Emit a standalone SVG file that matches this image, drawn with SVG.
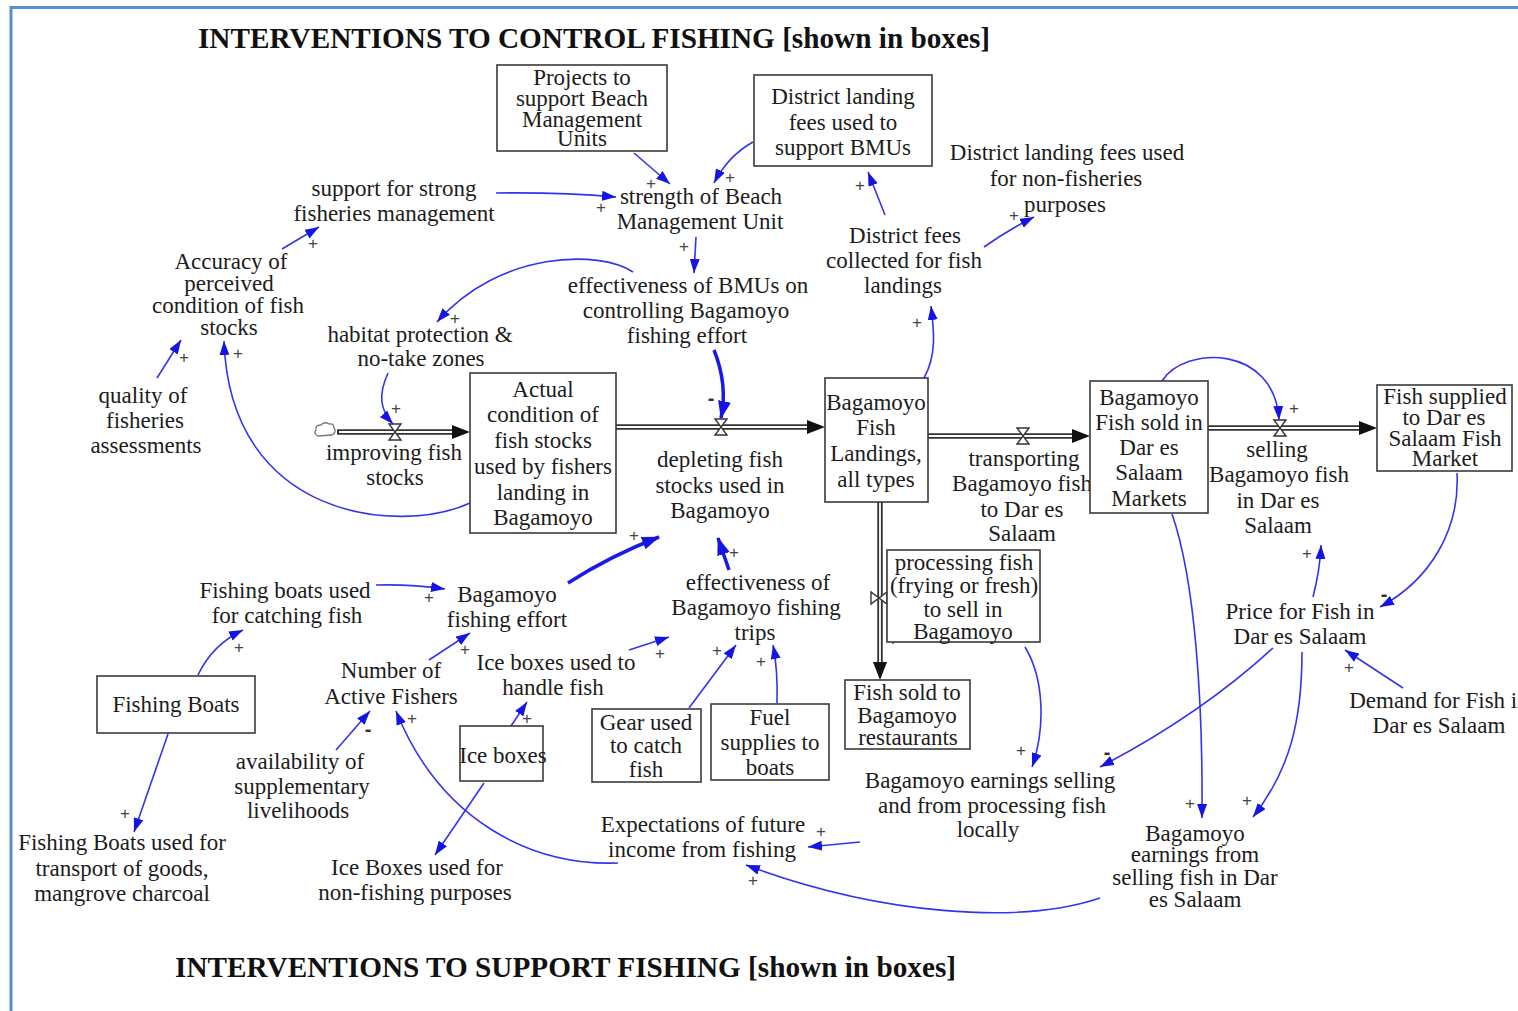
<svg xmlns="http://www.w3.org/2000/svg" width="1518" height="1011" viewBox="0 0 1518 1011">
<style>
.t{font-family:"Liberation Serif","Times New Roman",serif;font-size:23px;fill:#1c1c1c;text-anchor:middle}
.title{font-family:"Liberation Serif","Times New Roman",serif;font-size:29px;font-weight:bold;fill:#111}
.box{fill:#fff;stroke:#3a3a3a;stroke-width:1.6}
.c{fill:none;stroke:#3434ee;stroke-width:1.6;marker-end:url(#ar)}
.ck{fill:none;stroke:#1a1ae8;stroke-width:3.5;marker-end:url(#arb)}
.pipe{fill:none;stroke:#333;stroke-width:5.5;marker-end:url(#fa)}
.pipein{fill:none;stroke:#fff;stroke-width:1.8}
.pol{font-family:"Liberation Sans",Arial,sans-serif;font-size:17px;fill:#444;text-anchor:middle}
.neg{font-family:"Liberation Sans",Arial,sans-serif;font-size:20px;font-weight:bold;fill:#333;text-anchor:middle}
.valve{fill:#fff;stroke:#333;stroke-width:1.4}
</style>
<defs>
<marker id="ar" viewBox="0 0 14 10" refX="14" refY="5" markerWidth="14" markerHeight="10" markerUnits="userSpaceOnUse" orient="auto"><path d="M0,0 L14,5 L0,10 Z" fill="#1414e4"/></marker>
<marker id="arb" viewBox="0 0 18 13" refX="17" refY="6.5" markerWidth="18" markerHeight="13" markerUnits="userSpaceOnUse" orient="auto"><path d="M0,0 L18,6.5 L0,13 Z" fill="#1414e4"/></marker>
<marker id="fa" viewBox="0 -7 18 14" refX="0" refY="0" markerWidth="18" markerHeight="14" markerUnits="userSpaceOnUse" orient="auto"><path d="M0,-7 L18,0 L0,7 Z" fill="#111"/></marker>
<path id="vlv" d="M-6,-8 H6 L-6,8 H6 Z"/>
</defs>
<rect width="1518" height="1011" fill="#fff"/>
<path d="M11,1011 V7.5 H1518" fill="none" stroke="#5a8ed4" stroke-width="3"/>

<text class="title" x="198" y="48" textLength="792" lengthAdjust="spacingAndGlyphs">INTERVENTIONS TO CONTROL FISHING [shown in boxes]</text>
<text class="title" x="175" y="977" textLength="781" lengthAdjust="spacingAndGlyphs">INTERVENTIONS TO SUPPORT FISHING [shown in boxes]</text>

<g id="connectors">
<!-- stock flows -->
<path class="pipe" d="M337,432 L452,432"/><path class="pipein" d="M339,432 L452,432"/>
<path class="pipe" d="M616,427 L807,427"/><path class="pipein" d="M616,427 L807,427"/>
<path class="pipe" d="M928,436 L1072,436"/><path class="pipein" d="M928,436 L1072,436"/>
<path class="pipe" d="M1208,428 L1359,428"/><path class="pipein" d="M1208,428 L1359,428"/>
<path class="pipe" d="M880,502 L880,662"/><path class="pipein" d="M880,502 L880,662"/>
<path d="M318,436 q-5,-2 -2,-6 q-1,-5 5,-5 q3,-4 8,-1 q5,-1 5,4 q3,4 -2,7 z" fill="#fff" stroke="#777" stroke-width="1.3"/>
<use href="#vlv" class="valve" x="395" y="432"/>
<use href="#vlv" class="valve" x="721" y="427"/>
<use href="#vlv" class="valve" x="1023" y="436"/>
<use href="#vlv" class="valve" x="1280" y="428"/>
<use href="#vlv" class="valve" transform="translate(879,598) rotate(90)"/>

<!-- causal links -->
<path class="c" d="M634,153 L670,184"/>
<path class="c" d="M753,142 Q728,156 714,183"/>
<path class="c" d="M496,193 Q560,192 616,197"/>
<path class="c" d="M696,237 L694,273"/>
<path class="c" d="M885,215 L868,172"/>
<path class="c" d="M984,247 Q1008,230 1034,217"/>
<path class="c" d="M924,378 C937,355 934,330 931,306"/>
<path class="c" d="M633,272 C600,250 500,250 437,322"/>
<path class="c" d="M388,373 C378,395 380,410 393,424"/>
<path class="c" d="M282,249 L319,227"/>
<path class="c" d="M157,378 L181,340"/>
<path class="c" d="M470,503 C400,535 230,520 224,341"/>
<path class="ck" d="M714,350 Q728,385 721,418"/>
<path class="ck" d="M568,583 Q610,556 659,537"/>
<path class="ck" d="M729,570 L718,538"/>
<path class="c" d="M376,585 Q410,584 445,589"/>
<path class="c" d="M198,675 Q212,645 243,630"/>
<path class="c" d="M168,734 L134,832"/>
<path class="c" d="M429,660 L470,633"/>
<path class="c" d="M336,750 L370,711"/>
<path class="c" d="M618,863 C530,866 440,820 396,711"/>
<path class="c" d="M511,726 L527,702"/>
<path class="c" d="M629,650 L669,637"/>
<path class="c" d="M689,708 L736,645"/>
<path class="c" d="M777,703 Q778,670 773,645"/>
<path class="c" d="M484,783 L435,855"/>
<path class="c" d="M1025,647 C1045,680 1045,730 1032,767"/>
<path class="c" d="M860,842 L808,847"/>
<path class="c" d="M1100,898 C1020,925 880,915 746,865"/>
<path class="c" d="M1273,648 Q1200,715 1100,767"/>
<path class="c" d="M1302,652 C1302,720 1290,770 1253,817"/>
<path class="c" d="M1172,514 C1195,580 1203,700 1202,818"/>
<path class="c" d="M1313,597 Q1320,570 1321,545"/>
<path class="c" d="M1457,473 C1460,530 1430,580 1380,607"/>
<path class="c" d="M1403,688 L1345,650"/>
<path class="c" d="M1162,381 C1185,345 1275,345 1279,420"/>

<!-- polarities -->
<text class="pol" x="651" y="189">+</text>
<text class="pol" x="730" y="183">+</text>
<text class="pol" x="601" y="213">+</text>
<text class="pol" x="684" y="252">+</text>
<text class="pol" x="860" y="191">+</text>
<text class="pol" x="1014" y="221">+</text>
<text class="pol" x="917" y="328">+</text>
<text class="pol" x="455" y="324">+</text>
<text class="pol" x="396" y="414">+</text>
<text class="pol" x="313" y="249">+</text>
<text class="pol" x="184" y="363">+</text>
<text class="pol" x="238" y="359">+</text>
<text class="neg" x="711" y="405">-</text>
<text class="pol" x="634" y="541">+</text>
<text class="pol" x="734" y="558">+</text>
<text class="pol" x="429" y="603">+</text>
<text class="pol" x="239" y="653">+</text>
<text class="pol" x="125" y="819">+</text>
<text class="pol" x="465" y="655">+</text>
<text class="neg" x="368" y="736">-</text>
<text class="pol" x="412" y="724">+</text>
<text class="pol" x="527" y="724">+</text>
<text class="pol" x="660" y="659">+</text>
<text class="pol" x="717" y="656">+</text>
<text class="pol" x="761" y="667">+</text>
<text class="pol" x="893" y="645">+</text>
<text class="pol" x="1021" y="756">+</text>
<text class="pol" x="821" y="837">+</text>
<text class="pol" x="753" y="886">+</text>
<text class="neg" x="1107" y="759">-</text>
<text class="pol" x="1190" y="809">+</text>
<text class="pol" x="1247" y="806">+</text>
<text class="pol" x="1307" y="559">+</text>
<text class="neg" x="1384" y="601">-</text>
<text class="pol" x="1349" y="673">+</text>
<text class="pol" x="1294" y="414">+</text>
</g>

<g id="n-projects"><rect class="box" x="497" y="65" width="170" height="86"/><text class="t"><tspan x="582" y="85">Projects to</tspan><tspan x="582" y="106">support Beach</tspan><tspan x="582" y="127">Management</tspan><tspan x="582" y="146">Units</tspan></text></g>
<g id="n-district-box"><rect class="box" x="754" y="75" width="178" height="91"/><text class="t"><tspan x="843" y="104">District landing</tspan><tspan x="843" y="130">fees used to</tspan><tspan x="843" y="155">support BMUs</tspan></text></g>
<g id="n-support"><text class="t"><tspan x="394" y="196">support for strong</tspan><tspan x="394" y="221">fisheries management</tspan></text></g>
<g id="n-strength"><text class="t"><tspan x="701" y="204">strength of Beach</tspan><tspan x="700" y="229">Management Unit</tspan></text></g>
<g id="n-effbmu"><text class="t"><tspan x="688" y="293">effectiveness of BMUs on</tspan><tspan x="686" y="318">controlling Bagamoyo</tspan><tspan x="687" y="343">fishing effort</tspan></text></g>
<g id="n-fees"><text class="t"><tspan x="905" y="243">District fees</tspan><tspan x="904" y="268">collected for fish</tspan><tspan x="903" y="293">landings</tspan></text></g>
<g id="n-nonfish"><text class="t"><tspan x="1067" y="160">District landing fees used</tspan><tspan x="1066" y="186">for non-fisheries</tspan><tspan x="1065" y="212">purposes</tspan></text></g>
<g id="n-accuracy"><text class="t"><tspan x="231" y="269">Accuracy of</tspan><tspan x="229" y="291">perceived</tspan><tspan x="228" y="313">condition of fish</tspan><tspan x="229" y="335">stocks</tspan></text></g>
<g id="n-habitat"><text class="t"><tspan x="420" y="342">habitat protection &amp;</tspan><tspan x="421" y="366">no-take zones</tspan></text></g>
<g id="n-quality"><text class="t"><tspan x="143" y="403">quality of</tspan><tspan x="145" y="428">fisheries</tspan><tspan x="146" y="453">assessments</tspan></text></g>
<g id="n-improving"><text class="t"><tspan x="394" y="460">improving fish</tspan><tspan x="395" y="485">stocks</tspan></text></g>
<g id="n-actual"><rect class="box" x="470" y="373" width="146" height="160"/><text class="t"><tspan x="543" y="397">Actual</tspan><tspan x="543" y="422">condition of</tspan><tspan x="543" y="448">fish stocks</tspan><tspan x="543" y="474">used by fishers</tspan><tspan x="543" y="500">landing in</tspan><tspan x="543" y="525">Bagamoyo</tspan></text></g>
<g id="n-depleting"><text class="t"><tspan x="720" y="467">depleting fish</tspan><tspan x="720" y="493">stocks used in</tspan><tspan x="720" y="518">Bagamoyo</tspan></text></g>
<g id="n-landings"><rect class="box" x="825" y="378" width="103" height="124"/><text class="t"><tspan x="876" y="410">Bagamoyo</tspan><tspan x="876" y="435">Fish</tspan><tspan x="876" y="461">Landings,</tspan><tspan x="876" y="487">all types</tspan></text></g>
<g id="n-transport"><text class="t"><tspan x="1024" y="466">transporting</tspan><tspan x="1022" y="491">Bagamoyo fish</tspan><tspan x="1022" y="517">to Dar es</tspan><tspan x="1022" y="541">Salaam</tspan></text></g>
<g id="n-dar"><rect class="box" x="1090" y="381" width="118" height="132"/><text class="t"><tspan x="1149" y="405">Bagamoyo</tspan><tspan x="1149" y="430">Fish sold in</tspan><tspan x="1149" y="455">Dar es</tspan><tspan x="1149" y="480">Salaam</tspan><tspan x="1149" y="506">Markets</tspan></text></g>
<g id="n-selling"><text class="t"><tspan x="1277" y="457">selling</tspan><tspan x="1279" y="482">Bagamoyo fish</tspan><tspan x="1278" y="508">in Dar es</tspan><tspan x="1278" y="533">Salaam</tspan></text></g>
<g id="n-supplied"><rect class="box" x="1377" y="385" width="135" height="86"/><text class="t"><tspan x="1445" y="404">Fish supplied</tspan><tspan x="1444" y="425">to Dar es</tspan><tspan x="1445" y="446">Salaam Fish</tspan><tspan x="1445" y="466">Market</tspan></text></g>
<g id="n-processing"><rect class="box" x="887" y="550" width="153" height="92"/><text class="t"><tspan x="964" y="570">processing fish</tspan><tspan x="964" y="593">(frying or fresh)</tspan><tspan x="963" y="617">to sell in</tspan><tspan x="963" y="639">Bagamoyo</tspan></text></g>
<g id="n-restaurants"><rect class="box" x="845" y="680" width="125" height="69"/><text class="t"><tspan x="907" y="700">Fish sold to</tspan><tspan x="907" y="723">Bagamoyo</tspan><tspan x="908" y="745">restaurants</tspan></text></g>
<g id="n-effort"><text class="t"><tspan x="507" y="602">Bagamoyo</tspan><tspan x="507" y="627">fishing effort</tspan></text></g>
<g id="n-boatsused"><text class="t"><tspan x="285" y="598">Fishing boats used</tspan><tspan x="287" y="623">for catching fish</tspan></text></g>
<g id="n-efftrips"><text class="t"><tspan x="758" y="590">effectiveness of</tspan><tspan x="756" y="615">Bagamoyo fishing</tspan><tspan x="755" y="640">trips</tspan></text></g>
<g id="n-fishers"><text class="t"><tspan x="391" y="678">Number of</tspan><tspan x="391" y="704">Active Fishers</tspan></text></g>
<g id="n-icehandle"><text class="t"><tspan x="556" y="670">Ice boxes used to</tspan><tspan x="553" y="695">handle fish</tspan></text></g>
<g id="n-boats"><rect class="box" x="97" y="676" width="158" height="57"/><text class="t" x="176" y="712">Fishing Boats</text></g>
<g id="n-iceboxes"><rect class="box" x="460" y="726" width="83" height="55"/><text class="t" x="503" y="763">Ice boxes</text></g>
<g id="n-gear"><rect class="box" x="592" y="709" width="109" height="73"/><text class="t"><tspan x="646" y="730">Gear used</tspan><tspan x="646" y="753">to catch</tspan><tspan x="646" y="777">fish</tspan></text></g>
<g id="n-fuel"><rect class="box" x="711" y="704" width="118" height="76"/><text class="t"><tspan x="770" y="725">Fuel</tspan><tspan x="770" y="750">supplies to</tspan><tspan x="770" y="775">boats</tspan></text></g>
<g id="n-avail"><text class="t"><tspan x="300" y="769">availability of</tspan><tspan x="302" y="794">supplementary</tspan><tspan x="298" y="818">livelihoods</tspan></text></g>
<g id="n-transportboats"><text class="t"><tspan x="122" y="850">Fishing Boats used for</tspan><tspan x="122" y="876">transport of goods,</tspan><tspan x="122" y="901">mangrove charcoal</tspan></text></g>
<g id="n-icenonfish"><text class="t"><tspan x="417" y="875">Ice Boxes used for</tspan><tspan x="415" y="900">non-fishing purposes</tspan></text></g>
<g id="n-expect"><text class="t"><tspan x="703" y="832">Expectations of future</tspan><tspan x="702" y="857">income from fishing</tspan></text></g>
<g id="n-earnlocal"><text class="t"><tspan x="990" y="788">Bagamoyo earnings selling</tspan><tspan x="992" y="813">and from processing fish</tspan><tspan x="988" y="837">locally</tspan></text></g>
<g id="n-earndar"><text class="t"><tspan x="1195" y="841">Bagamoyo</tspan><tspan x="1195" y="862">earnings from</tspan><tspan x="1195" y="885">selling fish in Dar</tspan><tspan x="1195" y="907">es Salaam</tspan></text></g>
<g id="n-price"><text class="t"><tspan x="1300" y="619">Price for Fish in</tspan><tspan x="1300" y="644">Dar es Salaam</tspan></text></g>
<g id="n-demand"><text class="t"><tspan x="1439" y="708">Demand for Fish in</tspan><tspan x="1439" y="733">Dar es Salaam</tspan></text></g>
</svg>
